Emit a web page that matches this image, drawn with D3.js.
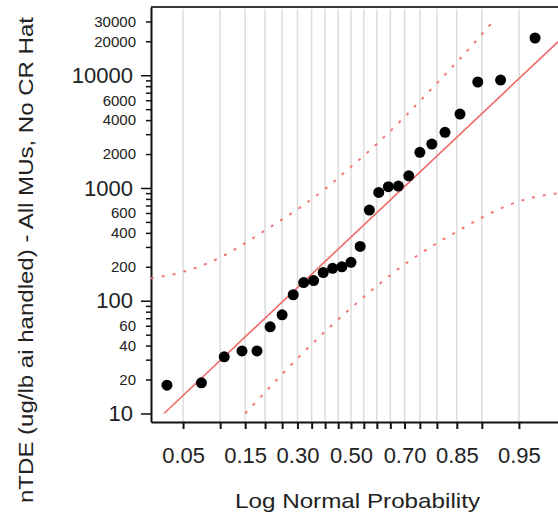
<!DOCTYPE html>
<html>
<head>
<meta charset="utf-8">
<script src="https://cdn.jsdelivr.net/npm/d3@7"></script>
<style>
  body { margin: 0; background: #fff; }
  text { font-family: "Liberation Sans", Arial, sans-serif; fill: #222; }
</style>
</head>
<body>
<script>
// measured nTDE values, sorted (ug/lb ai handled)
var ntde = [17.8, 18.7, 31.8, 35.9, 35.9, 58.7, 75, 113, 145, 151, 178, 194, 200, 219,
            303, 637, 914, 1026, 1040, 1283, 2070, 2452, 3115, 4525, 8710, 9070, 21400];

// probability axis
var xTickProbs = [0.05, 0.10, 0.15, 0.20, 0.25, 0.30, 0.35, 0.40, 0.45, 0.50,
                  0.55, 0.60, 0.65, 0.70, 0.75, 0.80, 0.85, 0.90, 0.95];
var xLabelProbs = [0.05, 0.15, 0.30, 0.50, 0.70, 0.85, 0.95];

// log axis
var yTicks = [10, 20, 30, 40, 50, 60, 70, 80, 90,
              100, 200, 300, 400, 500, 600, 700, 800, 900,
              1000, 2000, 3000, 4000, 5000, 6000, 7000, 8000, 9000,
              10000, 20000, 30000];
var yLabels = [10, 20, 40, 60, 100, 200, 400, 600, 1000, 2000, 4000, 6000, 10000, 20000, 30000];
var yMajor = [10, 100, 1000, 10000];

// fitted line and confidence bands
var fitP = [0.0335, 0.9787];
var fitV = [10, 19800];
var upperP = [0.025, 0.05, 0.10, 0.15, 0.20, 0.30, 0.40, 0.50, 0.60, 0.70, 0.80, 0.85, 0.90, 0.919];
var upperV = [158, 180, 242, 324, 421, 647, 980, 1542, 2460, 4265, 8511, 13030, 23000, 30500];
var lowerP = [0.15, 0.20, 0.30, 0.40, 0.50, 0.60, 0.70, 0.80, 0.85, 0.90, 0.95, 0.975, 0.98];
var lowerV = [10, 15.4, 30.8, 53.3, 85.9, 135, 210, 324, 410, 546, 761, 881, 900];

// inverse normal cdf (Acklam)
function qnorm(p) {
    var a = [-3.969683028665376e+01, 2.209460984245205e+02, -2.759285104469687e+02, 1.383577518672690e+02, -3.066479806614716e+01, 2.506628277459239e+00];
    var b = [-5.447609879822406e+01, 1.615858368580409e+02, -1.556989798598866e+02, 6.680131188771972e+01, -1.328068155288572e+01];
    var c = [-7.784894002430293e-03, -3.223964580411365e-01, -2.400758277161838e+00, -2.549732539343734e+00, 4.374664141464968e+00, 2.938163982698783e+00];
    var d = [7.784695709041462e-03, 3.224671290700398e-01, 2.445134137142996e+00, 3.754408661907416e+00];
    var q, r;
    if (p < 0.02425) {
        q = Math.sqrt(-2 * Math.log(p));
        return (((((c[0]*q+c[1])*q+c[2])*q+c[3])*q+c[4])*q+c[5]) / ((((d[0]*q+d[1])*q+d[2])*q+d[3])*q+1);
    }
    if (p > 1 - 0.02425) {
        q = Math.sqrt(-2 * Math.log(1 - p));
        return -(((((c[0]*q+c[1])*q+c[2])*q+c[3])*q+c[4])*q+c[5]) / ((((d[0]*q+d[1])*q+d[2])*q+d[3])*q+1);
    }
    q = p - 0.5; r = q * q;
    return (((((a[0]*r+a[1])*r+a[2])*r+a[3])*r+a[4])*r+a[5])*q / (((((b[0]*r+b[1])*r+b[2])*r+b[3])*r+b[4])*r+1);
}

var svg = d3.select("body").append("svg")
    .attr("width", 558)
    .attr("height", 520)
    .style("display", "block");

var plotLeft = 151, plotTop = 7, plotBottom = 422, plotRight = 558;

var x = d3.scaleLinear()
    .domain([qnorm(0.02506), qnorm(0.9787)])
    .range([plotLeft, plotRight]);

var y = d3.scaleLog()
    .domain([8.4, 40300])
    .range([plotBottom, plotTop]);

var n = ntde.length;
var points = ntde.map(function(v, i) { return {p: (i + 1) / (n + 1), v: v}; });

// grid
svg.append("g").selectAll("line")
    .data(xTickProbs)
    .enter().append("line")
    .attr("x1", function(d) { return x(qnorm(d)); })
    .attr("x2", function(d) { return x(qnorm(d)); })
    .attr("y1", plotTop + 2)
    .attr("y2", plotBottom)
    .attr("stroke", "#dcdcdc")
    .attr("stroke-width", 1.5);

// top border
svg.append("line")
    .attr("x1", plotLeft).attr("x2", plotRight)
    .attr("y1", plotTop).attr("y2", plotTop)
    .attr("stroke", "#3a3a3a")
    .attr("stroke-width", 2);

// x axis
var xAxis = d3.axisBottom(x)
    .tickValues(xTickProbs.map(qnorm))
    .tickSize(7)
    .tickSizeOuter(0)
    .tickFormat(function(d, i) {
        var p = xTickProbs[i];
        return xLabelProbs.indexOf(p) >= 0 ? d3.format(".2f")(p) : "";
    });

var gx = svg.append("g")
    .attr("transform", "translate(0," + plotBottom + ")")
    .call(xAxis);
gx.select(".domain").attr("stroke", "#111").attr("stroke-width", 2);
gx.selectAll(".tick line").attr("stroke", "#111").attr("stroke-width", 2);
gx.selectAll(".tick text")
    .attr("y", 25)
    .style("font-size", "22px")
    .style("font-family", "Liberation Sans, Arial, sans-serif")
    .attr("fill", "#222");

// y axis
var yAxis = d3.axisLeft(y)
    .tickValues(yTicks)
    .tickSize(5)
    .tickSizeOuter(0)
    .tickFormat(function(d) { return yLabels.indexOf(d) >= 0 ? d : ""; });

var gy = svg.append("g")
    .attr("transform", "translate(" + plotLeft + ",0)")
    .call(yAxis);
gy.select(".domain").attr("stroke", "#111").attr("stroke-width", 2);
gy.selectAll(".tick line")
    .attr("stroke", "#111")
    .attr("stroke-width", 1.5)
    .attr("x2", function(d) { return yMajor.indexOf(d) >= 0 ? -10 : -5; });
gy.selectAll(".tick text")
    .attr("x", function(d) { return yMajor.indexOf(d) >= 0 ? -18 : -15; })
    .style("font-size", function(d) { return yMajor.indexOf(d) >= 0 ? "22px" : "15px"; })
    .style("font-family", "Liberation Sans, Arial, sans-serif")
    .attr("fill", "#222");

// bands and fit
var line = d3.line()
    .x(function(d) { return x(qnorm(d[0])); })
    .y(function(d) { return y(d[1]); })
    .curve(d3.curveMonotoneX);

svg.append("path")
    .datum(d3.zip(upperP, upperV))
    .attr("d", line)
    .attr("fill", "none")
    .attr("stroke", "#f27878")
    .attr("stroke-width", 2)
    .attr("stroke-dasharray", "3,8");

svg.append("path")
    .datum(d3.zip(lowerP, lowerV))
    .attr("d", line)
    .attr("fill", "none")
    .attr("stroke", "#f27878")
    .attr("stroke-width", 2)
    .attr("stroke-dasharray", "3,8");

svg.append("path")
    .datum(d3.zip(fitP, fitV))
    .attr("d", d3.line()
        .x(function(d) { return x(qnorm(d[0])); })
        .y(function(d) { return y(d[1]); }))
    .attr("fill", "none")
    .attr("stroke", "#f06a6a")
    .attr("stroke-width", 1.6);

// points
svg.append("g").selectAll("circle")
    .data(points)
    .enter().append("circle")
    .attr("cx", function(d) { return x(qnorm(d.p)); })
    .attr("cy", function(d) { return y(d.v); })
    .attr("r", 5.5)
    .attr("fill", "#000");

// axis titles
svg.append("text")
    .attr("x", 357.5)
    .attr("y", 508)
    .attr("text-anchor", "middle")
    .attr("textLength", 245)
    .attr("lengthAdjust", "spacingAndGlyphs")
    .style("font-size", "21px")
    .text("Log Normal Probability");

svg.append("text")
    .attr("transform", "translate(33,260) rotate(-90)")
    .attr("text-anchor", "middle")
    .attr("textLength", 486)
    .attr("lengthAdjust", "spacingAndGlyphs")
    .style("font-size", "21px")
    .text("nTDE (ug/lb ai handled) - All MUs, No CR Hat");
</script>
</body>
</html>
